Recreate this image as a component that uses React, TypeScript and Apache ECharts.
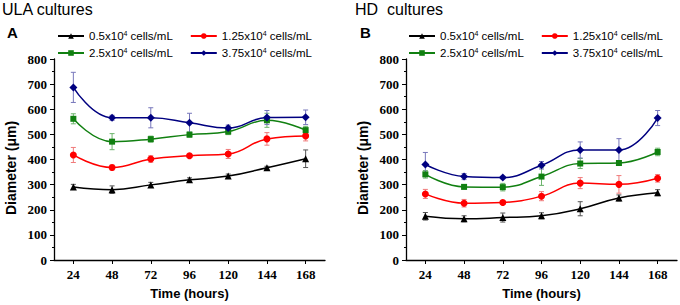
import React, { useEffect, useRef } from "react";
import * as echarts from "echarts";

// ---- data ----
const hours = [24, 48, 72, 96, 120, 144, 168];
const xTickLabels = [24, 48, 72, 96, 120, 144, 168];
const densities = ["0.5", "1.25", "2.5", "3.75"];
const panelTitles = ["ULA cultures", "HD  cultures"];
const panelLetters = ["A", "B"];

// ULA cultures (panel A), mean diameter (µm)
const ula05 = [291, 280, 299, 319, 334, 367, 403];
const ula125 = [418, 368, 402, 415, 422, 482, 494];
const ula25 = [562, 471, 481, 499, 511, 556, 517];
const ula375 = [687, 566, 566, 546, 525, 567, 568];
// ULA error (±)
const ulaErr05 = [10, 15, 10, 8, 8, 6, 35];
const ulaErr125 = [30, 10, 13, 5, 18, 25, 20];
const ulaErr25 = [20, 32, 12, 10, 12, 28, 15];
const ulaErr375 = [60, 10, 40, 38, 12, 28, 29];

// HD cultures (panel B)
const hd05 = [174, 164, 169, 176, 204, 247, 268];
const hd125 = [263, 226, 229, 254, 306, 301, 325];
const hd25 = [341, 291, 290, 332, 384, 386, 430];
const hd375 = [380, 332, 328, 377, 438, 438, 565];
const hdErr05 = [15, 12, 18, 12, 28, 12, 12];
const hdErr125 = [18, 15, 8, 18, 22, 35, 15];
const hdErr25 = [15, 8, 15, 35, 20, 10, 15];
const hdErr375 = [48, 12, 5, 15, 32, 45, 30];

// ---- styles ----
const lineColors = ["#000000", "#ff0000", "#118011", "#000080"];
const errColors = ["#555555", "#f07a7a", "#6cb46c", "#7777bb"];
const symbols = ["triangle", "circle", "rect", "diamond"];
const symbolSizes = [7, 7, 6, 8];
const SANS = "Liberation Sans, Arial, sans-serif";
const SERIF = "Liberation Serif, Times New Roman, serif";

export default function App() {
  const ref = useRef<HTMLDivElement>(null);

  useEffect(() => {
    if (!ref.current) return;
    const chart = echarts.init(ref.current, undefined, { renderer: "svg" });

    const means = [
      [ula05, ula125, ula25, ula375],
      [hd05, hd125, hd25, hd375],
    ];
    const errs = [
      [ulaErr05, ulaErr125, ulaErr25, ulaErr375],
      [hdErr05, hdErr125, hdErr25, hdErr375],
    ];

    const grids = [
      { left: 54, top: 59, width: 271, height: 205 },
      { left: 406, top: 59, width: 271, height: 205 },
    ];

    const xAxes = [0, 1].map((p) => ({
      type: "value",
      gridIndex: p,
      min: 12,
      max: 180,
      splitLine: { show: false },
      axisLine: { lineStyle: { color: "#000", width: 1.3 } },
      axisTick: { customValues: xTickLabels, length: 4, lineStyle: { color: "#000" } },
      axisLabel: {
        customValues: xTickLabels,
        fontFamily: SERIF,
        fontWeight: "bold",
        fontSize: 13,
        color: "#000",
        margin: 8,
      },
      name: "Time (hours)",
      nameLocation: "middle",
      nameGap: 27,
      nameTextStyle: { fontFamily: SANS, fontWeight: "bold", fontSize: 13, color: "#000" },
    }));

    const yAxes = [0, 1].map((p) => ({
      type: "value",
      gridIndex: p,
      min: 0,
      max: 800,
      interval: 100,
      splitLine: { show: false },
      axisLine: { show: true, lineStyle: { color: "#000", width: 1.3 } },
      axisTick: { show: true, length: 4, lineStyle: { color: "#000" } },
      minorTick: { show: true, splitNumber: 2, length: 2, lineStyle: { color: "#000" } },
      axisLabel: {
        fontFamily: SERIF,
        fontWeight: "bold",
        fontSize: 13,
        color: "#000",
        margin: 7,
      },
    }));

    const series: any[] = [];
    [0, 1].forEach((p) => {
      densities.forEach((d, i) => {
        const m = means[p][i];
        const e = errs[p][i];
        const ec = errColors[i];
        series.push({
          type: "custom",
          name: "err-" + p + "-" + d,
          xAxisIndex: p,
          yAxisIndex: p,
          silent: true,
          z: 2,
          encode: { x: 0, y: [1, 2] },
          data: hours.map((h, j) => [h, m[j] - e[j], m[j] + e[j]]),
          renderItem: (params: any, api: any) => {
            const x = api.value(0);
            const lo = api.coord([x, api.value(1)]);
            const hi = api.coord([x, api.value(2)]);
            const w = 2.5;
            const st = { stroke: ec, lineWidth: 1 };
            return {
              type: "group",
              children: [
                { type: "line", shape: { x1: lo[0], y1: lo[1], x2: hi[0], y2: hi[1] }, style: st },
                { type: "line", shape: { x1: lo[0] - w, y1: lo[1], x2: lo[0] + w, y2: lo[1] }, style: st },
                { type: "line", shape: { x1: hi[0] - w, y1: hi[1], x2: hi[0] + w, y2: hi[1] }, style: st },
              ],
            };
          },
        });
        series.push({
          type: "line",
          name: d,
          xAxisIndex: p,
          yAxisIndex: p,
          z: 3,
          smooth: 0.45,
          symbol: symbols[i],
          symbolSize: symbolSizes[i],
          lineStyle: { color: lineColors[i], width: 1.5 },
          itemStyle: { color: lineColors[i] },
          data: hours.map((h, j) => [h, m[j]]),
        });
      });
    });

    const legendBase = {
      orient: "horizontal",
      padding: 0,
      width: 270,
      itemWidth: 26,
      itemHeight: 7,
      itemGap: 17,
      selectedMode: false,
      formatter: (name: string) => `${name}x10{sup|4} cells/mL`,
      textStyle: {
        fontFamily: SANS,
        fontSize: 11.5,
        color: "#000",
        rich: {
          sup: { fontFamily: SANS, fontSize: 7, verticalAlign: "top", color: "#000" },
        },
      },
    };
    const legends = [
      { ...legendBase, data: [densities[0], densities[1]], left: 57, top: 30 },
      { ...legendBase, data: [densities[2], densities[3]], left: 57, top: 47 },
      { ...legendBase, data: [densities[0], densities[1]], left: 408, top: 30 },
      { ...legendBase, data: [densities[2], densities[3]], left: 408, top: 47 },
    ];

    const titleX = [2, 355];
    const letterX = [7, 360];
    const yNameX = [11, 363];
    const graphics: any[] = [];
    [0, 1].forEach((p) => {
      graphics.push({
        type: "text",
        x: titleX[p],
        y: 1,
        style: { text: panelTitles[p], fontFamily: SANS, fontSize: 16, fill: "#000" },
      });
      graphics.push({
        type: "text",
        x: letterX[p],
        y: 25,
        style: { text: panelLetters[p], fontFamily: SANS, fontSize: 15, fontWeight: "bold", fill: "#000" },
      });
      graphics.push({
        type: "text",
        x: yNameX[p],
        y: 168,
        rotation: Math.PI / 2,
        style: {
          text: "Diameter (μm)",
          fontFamily: SANS,
          fontSize: 14,
          fontWeight: "bold",
          fill: "#000",
          textAlign: "center",
          textVerticalAlign: "middle",
        },
      });
    });

    chart.setOption({
      animation: false,
      backgroundColor: "#fff",
      grid: grids,
      xAxis: xAxes,
      yAxis: yAxes,
      legend: legends,
      series,
      graphic: graphics,
    });

    return () => chart.dispose();
  }, []);

  return (
    <div
      ref={ref}
      style={{ position: "absolute", left: 0, top: 0, width: 680, height: 305 }}
    />
  );
}
